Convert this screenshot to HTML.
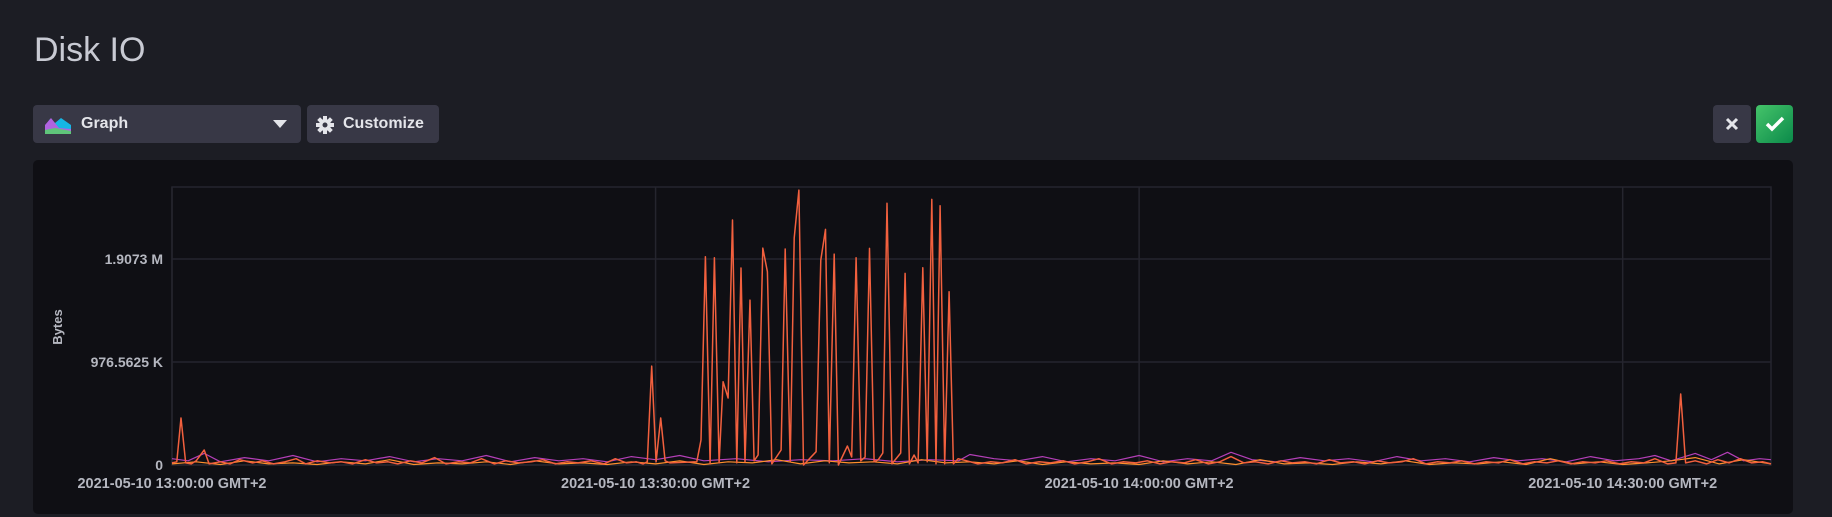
<!DOCTYPE html>
<html><head><meta charset="utf-8"><style>
html,body{margin:0;padding:0;background:#1c1d24;width:1832px;height:517px;overflow:hidden;font-family:"Liberation Sans",sans-serif;}
.abs{position:absolute;}
.btn{position:absolute;background:#383846;border-radius:4px;color:#e4e5ea;font-weight:bold;font-size:16px;box-sizing:border-box;}
</style></head><body>
<div class="abs" style="left:34px;top:31px;font-size:34px;color:#c8cad3;">Disk IO</div>
<div class="btn" style="left:33px;top:105px;width:268px;height:38px;">
  <svg class="abs" style="left:12px;top:11px" width="26" height="18"><polygon points="0,18 0,10 5,3 10,7 16,2 26,9 26,18" fill="#16b6e4"/><polygon points="0,18 0,9 6,2 14,12 26,13 26,18" fill="#b063e0"/><polygon points="0,18 0,14 10,12 26,15 26,18" fill="#5fc57a"/></svg>
  <span class="abs" style="left:48px;top:10px;">Graph</span>
  <svg class="abs" style="left:240px;top:15px" width="14" height="8"><polygon points="0,0 14,0 7,8" fill="#e4e5ea"/></svg>
</div>
<div class="btn" style="left:307px;top:105px;width:132px;height:38px;">
  <svg class="abs" style="left:9px;top:11px" width="18" height="18"><g fill="#e4e5ea" transform="translate(9,9)"><circle r="6"/><rect x="-2" y="-9" width="4" height="18"/><rect x="-9" y="-2" width="18" height="4"/><rect x="-2" y="-9" width="4" height="18" transform="rotate(45)"/><rect x="-2" y="-9" width="4" height="18" transform="rotate(-45)"/><circle r="2.5" fill="#383846"/></g></svg>
  <span class="abs" style="left:36px;top:10px;">Customize</span>
</div>
<div class="btn" style="left:1713px;top:105px;width:38px;height:38px;">
  <svg class="abs" style="left:12px;top:12px" width="14" height="14"><path d="M2 2L12 12M12 2L2 12" stroke="#e4e5ea" stroke-width="3"/></svg>
</div>
<div class="btn" style="left:1756px;top:105px;width:37px;height:38px;background:linear-gradient(135deg,#45c46a,#0b8a4a);">
  <svg class="abs" style="left:9px;top:11px" width="20" height="16"><path d="M2 8L7 13L18 2" stroke="#fff" stroke-width="3.5" fill="none"/></svg>
</div>
<div class="abs" style="left:33px;top:160px;width:1760px;height:354px;background:#0f0f14;border-radius:5px;"></div>
<svg id="chart" class="abs" style="left:0;top:0" width="1832" height="517"></svg>
<script>
const yTicks=[0,976.5625,1953.125];
const yTickLabels=["0","976.5625 K","1.9073 M"];
const xTicks=[0,30,60,90];
const xTickLabels=["2021-05-10 13:00:00 GMT+2","2021-05-10 13:30:00 GMT+2","2021-05-10 14:00:00 GMT+2","2021-05-10 14:30:00 GMT+2"];
const mainTimes=[0,0.3,0.56,0.85,1.2,1.5,2.0,2.3,3,3.6,4.2,5,5.6,6.3,7,7.7,8.3,9,9.8,10.5,11.2,12,12.7,13.4,14,14.8,15.5,16.3,17,17.8,18.5,19.2,20,20.7,21.5,22.3,23,23.8,24.5,25.2,26,26.8,27.5,28.2,28.8,29.22,29.49,29.76,30.03,30.32,30.59,30.9,32.56,32.82,33.09,33.38,33.65,33.94,34.19,34.5,34.77,35.04,35.3,35.55,35.86,36.11,36.36,36.65,36.94,37.21,37.79,38.04,38.35,38.6,38.89,39.18,39.96,40.25,40.54,40.78,41.08,41.34,41.9,42.17,42.44,42.73,43.0,43.27,43.56,43.82,44.1,44.36,44.66,45.21,45.48,45.75,46.04,46.29,46.58,46.85,47.14,47.4,47.65,47.94,48.21,48.48,48.77,49.3,50,50.8,51.5,52.3,53,53.8,54.5,55.3,56,56.8,57.5,58.3,59,59.8,60.5,61.3,62,62.8,63.5,64.3,65,65.7,66.5,67.2,68,68.8,69.5,70.3,71,71.8,72.5,73.3,74,74.8,75.5,76.3,77,77.8,78.5,79.3,80,80.8,81.5,82.3,83,83.8,84.5,85.3,86,86.8,87.5,88.3,89,89.8,90.5,91.3,92,92.8,93.3,93.6,93.9,94.5,95.2,95.9,96.6,97.3,98,98.7,99.2];
const mainValues=[20,30,446,20,10,40,142,10,30,10,50,20,40,10,30,60,10,40,20,30,10,50,20,30,10,40,20,70,10,30,20,60,10,40,20,30,50,10,30,20,40,10,60,20,30,10,30,938,30,446,40,20,30,237,1975,10,1965,20,790,635,2323,20,1868,30,1564,40,95,2057,1833,10,142,2048,30,2152,2607,0,126,1944,2234,20,2000,0,180,76,1965,40,75,2054,30,50,114,2481,10,114,1817,10,95,20,1870,30,2518,10,2458,10,1643,10,60,40,10,30,20,50,10,30,20,40,10,30,60,10,30,20,40,10,30,20,50,10,30,80,20,30,10,40,20,30,10,50,20,30,10,40,20,30,60,10,30,20,40,10,30,20,50,10,30,20,40,10,30,20,40,10,30,20,60,10,20,673,20,40,10,50,20,60,20,30,10];
const purpleTimes=[0,1,2,3,4.5,6,7.5,9,10.5,12,13.5,15,16.5,18,19.5,21,22.5,24,25.5,27,28.5,30,31.5,33,35,37,39,41,43,45,47,48.8,49.5,51,52.5,54,55.5,57,58.5,60,61.5,63,64.5,65.7,67,68.5,70,71.5,73,74.5,76,77.5,79,80.5,82,83.5,85,86.5,88,89.5,91,92,93,94.5,95.5,96.5,97.5,98.5,99.2];
const purpleValues=[60,40,110,30,70,40,90,30,60,40,80,30,60,40,90,30,70,40,60,30,80,50,90,40,60,30,50,40,60,30,50,40,100,60,40,80,30,60,40,90,30,60,40,120,50,30,70,40,60,30,80,40,60,30,70,40,60,30,80,40,60,90,40,110,50,120,40,60,50];
const orangeTimes=[0,1.5,3,4.5,6,7.5,9,10.5,12,13.5,15,16.5,18,19.5,21,22.5,24,25.5,27,28.5,30,31.5,33,34.5,36,37.5,39,40.5,42,43.5,45,46.5,48,49.5,51,52.5,54,55.5,57,58.5,60,61.5,63,64.5,66,67.5,69,70.5,72,73.5,75,76.5,78,79.5,81,82.5,84,85.5,87,88.5,90,91.5,93,94.5,96,97.5,99.2];
const orangeValues=[10,30,5,40,10,20,5,30,10,50,5,20,10,30,5,40,10,20,5,30,10,40,5,30,20,50,10,40,20,30,10,50,20,30,10,40,5,30,10,20,5,40,10,30,5,50,10,20,5,30,10,40,5,20,10,30,5,60,10,30,5,20,40,70,10,50,10];

const svg=document.getElementById('chart');
const NS='http://www.w3.org/2000/svg';
const L=172,R=1771,T=187,B=465,tMax=99.2,yMax=2636;
const xs=t=>L+(t/tMax)*(R-L);
const ys=v=>B-(v/yMax)*(B-T);
function mk(tag,attrs){const e=document.createElementNS(NS,tag);for(const k in attrs)e.setAttribute(k,attrs[k]);svg.appendChild(e);return e;}
const frame=mk('rect',{x:L,y:T,width:R-L,height:B-T,fill:'none',stroke:'#25252e','stroke-width':1.5});


yTicks.forEach((v,i)=>{
  const g=mk('line',{x1:L,x2:R,y1:ys(v),y2:ys(v),stroke:'#25252e','stroke-width':1.5});
  
  
  const t=mk('text',{x:L-9,y:ys(v)+5,'text-anchor':'end',fill:'#b5b7c0','font-size':14,'font-weight':'bold','font-family':'Liberation Sans, sans-serif'});
  t.textContent=yTickLabels[i];
  
  
});
xTicks.forEach((m,i)=>{
  const g=mk('line',{x1:xs(m),x2:xs(m),y1:T,y2:B,stroke:'#25252e','stroke-width':1.5});
  
  
  const t=mk('text',{x:xs(m),y:488,'text-anchor':'middle',fill:'#b5b7c0','font-size':14.5,'font-weight':'bold','font-family':'Liberation Sans, sans-serif'});
  t.textContent=xTickLabels[i];
  
  
});
const yt=mk('text',{x:0,y:0,transform:'translate(62,327) rotate(-90)','text-anchor':'middle',fill:'#b5b7c0','font-size':13,'font-weight':'bold','font-family':'Liberation Sans, sans-serif'});
yt.textContent='Bytes';


function series(times,vals,color,name,w){
  const d=times.map((t,i)=>(i?'L':'M')+xs(t).toFixed(1)+' '+ys(vals[i]).toFixed(1)).join(' ');
  const p=mk('path',{d:d,fill:'none',stroke:color,'stroke-width':w,'stroke-linejoin':'round'});
  
  
}
series(purpleTimes,purpleValues,'#b43fb8','series-purple',1.2);
series(orangeTimes,orangeValues,'#ff8f2c','series-orange',1.2);
series(mainTimes,mainValues,'#f2603e','series-main',1.5);
</script>
</body></html>
